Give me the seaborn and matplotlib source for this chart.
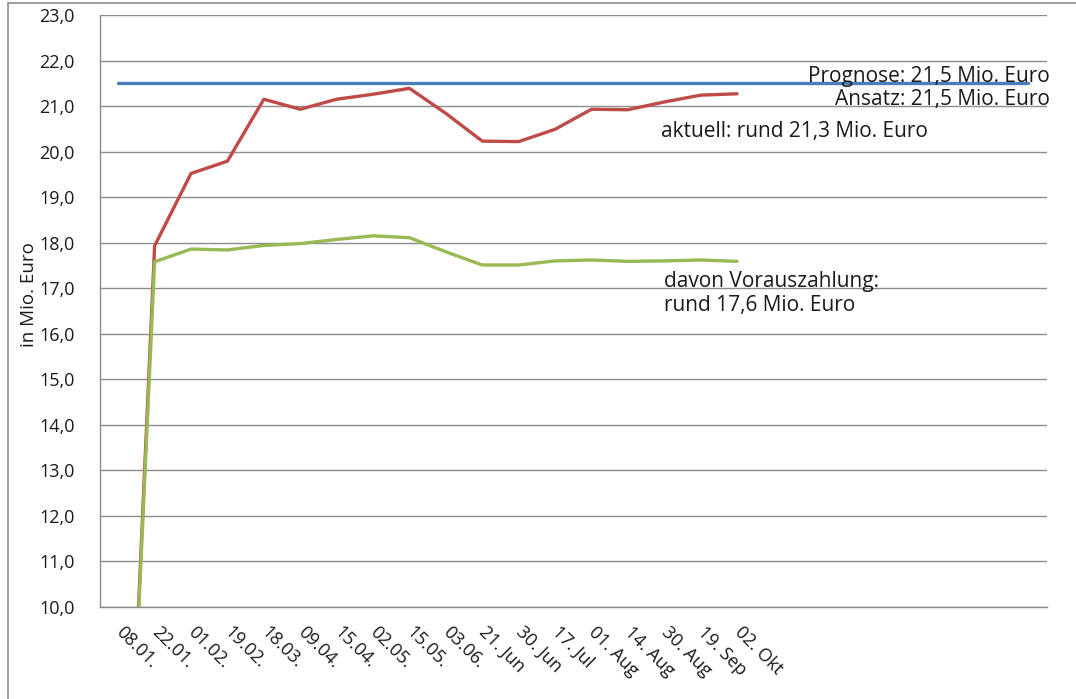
import numpy as np
import pandas as pd
import matplotlib
matplotlib.use("Agg")
import matplotlib.pyplot as plt
import seaborn as sns
from matplotlib.patches import Rectangle
from matplotlib.ticker import FuncFormatter, FixedLocator

# x categories (the axis has 26 slots, only the first 18 are labelled)
dates = ["08.01.", "22.01.", "01.02.", "19.02.", "18.03.", "09.04.", "15.04.",
         "02.05.", "15.05.", "03.06.", "21. Jun", "30. Jun", "17. Jul",
         "01. Aug", "14. Aug", "30. Aug", "19. Sep", "02. Okt"]
n_slots = 26

# values in Mio. Euro
prognose = [21.5] * n_slots
aktuell = [0.0, 17.93, 19.52, 19.79, 21.15, 20.93, 21.15, 21.26, 21.39, 20.84,
           20.23, 20.22, 20.49, 20.93, 20.92, 21.09, 21.24, 21.27]
voraus = [0.0, 17.58, 17.86, 17.84, 17.94, 17.98, 18.07, 18.15, 18.11, 17.80,
          17.51, 17.51, 17.60, 17.62, 17.59, 17.60, 17.62, 17.59]

df_prog = pd.DataFrame({"pos": np.arange(n_slots), "value": prognose})
df_akt = pd.DataFrame({"pos": np.arange(len(aktuell)), "value": aktuell})
df_vor = pd.DataFrame({"pos": np.arange(len(voraus)), "value": voraus})

sns.set_style("white")
plt.rcParams['font.family'] = ['Open Sans', 'DejaVu Sans']

grid_col = "#8c8c8c"
fig = plt.figure(figsize=(10.76, 6.99), dpi=100)
W, H = 1076, 699
ax = fig.add_axes([100 / W, (H - 607) / H, 946.5 / W, 592 / H])

sns.lineplot(data=df_prog, x="pos", y="value", ax=ax, color="#4A7EBB", lw=2.4)
sns.lineplot(data=df_akt, x="pos", y="value", ax=ax, color="#BE4B48", lw=2.4)
sns.lineplot(data=df_vor, x="pos", y="value", ax=ax, color="#98B954", lw=2.4)

ax.set_xlim(-0.5, n_slots - 0.5)
ax.set_ylim(10, 23)
ax.set_yticks(np.arange(10, 23.5, 1))
ax.yaxis.set_major_formatter(FuncFormatter(lambda v, p: f"{v:.1f}".replace(".", ",")))
ax.grid(axis="y", color=grid_col, lw=1.0)
ax.set_axisbelow(True)

# tick marks between categories, labels at category centres
ax.xaxis.set_major_locator(FixedLocator(np.arange(-0.5, n_slots, 1)))
ax.xaxis.set_major_formatter(FuncFormatter(lambda v, p: ""))
ax.xaxis.set_minor_locator(FixedLocator(np.arange(len(dates))))
ax.set_xticklabels(dates, minor=True, rotation=-45, ha="left", va="center",
                   rotation_mode="anchor", fontsize=13, color="#1a1a1a")
ax.tick_params(axis="x", which="major", length=6, width=1, color=grid_col, direction="out")
ax.tick_params(axis="x", which="minor", length=0, pad=16)
ax.tick_params(axis="y", length=7, width=1, color=grid_col, direction="out",
               labelsize=13, labelcolor="#1a1a1a", pad=11)

for side in ["top", "right"]:
    ax.spines[side].set_visible(False)
for side in ["left", "bottom"]:
    ax.spines[side].set_color(grid_col)
    ax.spines[side].set_linewidth(1.0)

ax.set_xlabel("")
ax.set_ylabel("in Mio. Euro", fontsize=13.5, color="#1a1a1a")
ax.yaxis.set_label_coords(-0.066, 0.527)

txt = dict(fontsize=15, color="#1a1a1a")
ax.text(25.6, 21.66, "Prognose: 21,5 Mio. Euro", ha="right", va="center", **txt)
ax.text(25.6, 21.14, "Ansatz: 21,5 Mio. Euro", ha="right", va="center", **txt)
ax.text(14.9, 20.44, "aktuell: rund 21,3 Mio. Euro", ha="left", va="center", **txt)
ax.text(15.0, 17.14, "davon Vorauszahlung:", ha="left", va="center", **txt)
ax.text(15.0, 16.62, "rund 17,6 Mio. Euro", ha="left", va="center", **txt)

# chart area border
fig.patches.append(Rectangle((8 / W, -0.01), 1.0, 1 - 3 / H + 0.01,
                             transform=fig.transFigure, fill=False,
                             edgecolor="#8c8c8c", lw=1.2))

fig.savefig("out.png", dpi=100)
